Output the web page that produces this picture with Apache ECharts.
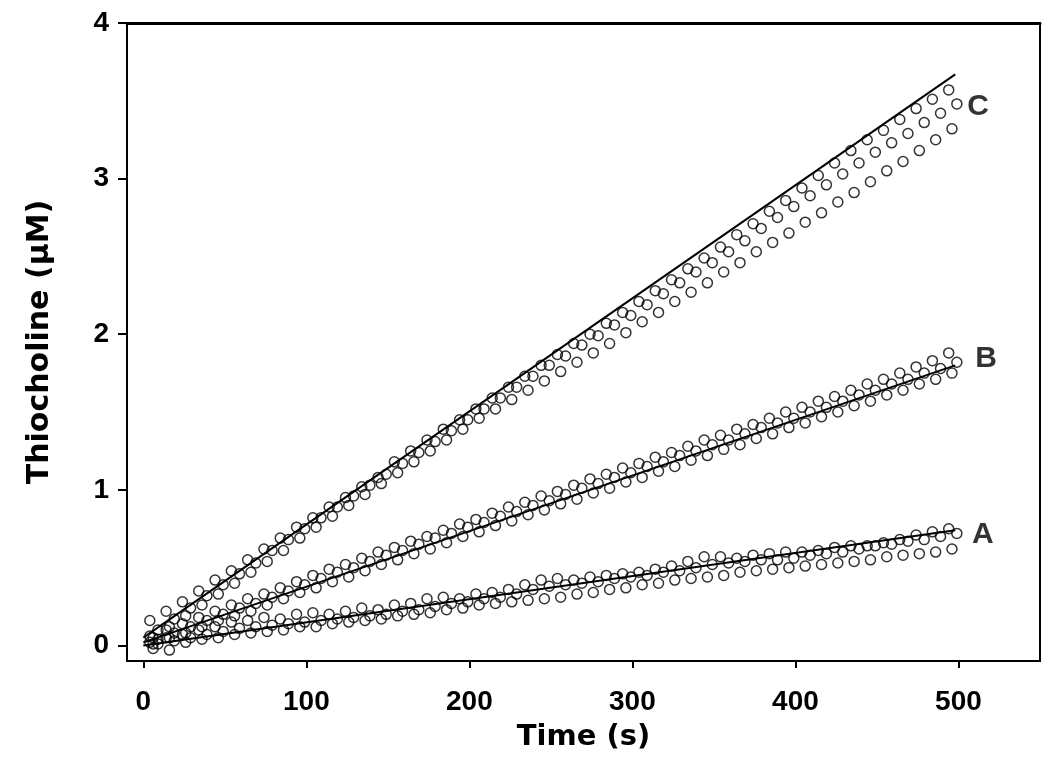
<!DOCTYPE html>
<html>
<head>
<meta charset="utf-8">
<script src="https://cdn.jsdelivr.net/npm/echarts@6/dist/echarts.min.js"></script>
<style>html,body{margin:0;padding:0;background:#fff;}#chart{width:1050px;height:779px;}</style>
</head>
<body>
<div id="chart"></div>
<script>
// Time grids (s) for the three replicate runs
const timesR1 = [4,14,24,34,44,54,64,74,84,94,104,114,124,134,144,154,164,174,184,194,204,214,224,234,244,254,264,274,284,294,304,314,324,334,344,354,364,374,384,394,404,414,424,434,444,454,464,474,484,494];
const timesR2 = [9,19,29,39,49,59,69,79,89,99,109,119,129,139,149,159,169,179,189,199,209,219,229,239,249,259,269,279,289,299,309,319,329,339,349,359,369,379,389,399,409,419,429,439,449,459,469,479,489,499];
const timesR3 = [6,16,26,36,46,56,66,76,86,96,106,116,126,136,146,156,166,176,186,196,206,216,226,236,246,256,266,276,286,296,306,316,326,336,346,356,366,376,386,396,406,416,426,436,446,456,466,476,486,496];

// Thiocholine (µM), condition A
const seriesA1 = [0.02,0.05,0.07,0.10,0.12,0.15,0.16,0.18,0.17,0.20,0.21,0.20,0.22,0.24,0.23,0.26,0.27,0.30,0.31,0.30,0.33,0.34,0.36,0.39,0.42,0.43,0.42,0.44,0.45,0.46,0.47,0.49,0.51,0.54,0.57,0.57,0.56,0.58,0.59,0.60,0.60,0.61,0.63,0.64,0.64,0.66,0.68,0.71,0.73,0.75];
const seriesA2 = [0.01,0.03,0.05,0.07,0.09,0.11,0.12,0.13,0.14,0.15,0.16,0.17,0.18,0.19,0.20,0.22,0.23,0.25,0.27,0.28,0.30,0.31,0.33,0.36,0.38,0.39,0.40,0.41,0.43,0.44,0.45,0.47,0.48,0.50,0.52,0.53,0.54,0.55,0.55,0.56,0.58,0.59,0.60,0.62,0.64,0.65,0.67,0.68,0.70,0.72];
const seriesA3 = [-0.02,-0.03,0.02,0.04,0.05,0.07,0.08,0.09,0.10,0.12,0.12,0.14,0.15,0.16,0.17,0.19,0.20,0.21,0.23,0.24,0.26,0.27,0.28,0.29,0.30,0.31,0.33,0.34,0.36,0.37,0.39,0.40,0.42,0.43,0.44,0.45,0.47,0.48,0.49,0.50,0.51,0.52,0.53,0.54,0.55,0.57,0.58,0.59,0.60,0.62];

// condition B
const seriesB1 = [0.06,0.10,0.14,0.18,0.22,0.26,0.30,0.33,0.37,0.41,0.45,0.49,0.52,0.56,0.60,0.63,0.67,0.70,0.74,0.78,0.81,0.85,0.89,0.92,0.96,0.99,1.03,1.07,1.10,1.14,1.17,1.21,1.24,1.28,1.32,1.35,1.39,1.42,1.46,1.50,1.53,1.57,1.60,1.64,1.68,1.71,1.75,1.79,1.83,1.88];
const seriesB2 = [0.04,0.08,0.12,0.16,0.20,0.24,0.27,0.31,0.35,0.39,0.43,0.47,0.50,0.54,0.58,0.61,0.65,0.69,0.72,0.76,0.79,0.83,0.86,0.90,0.93,0.97,1.01,1.04,1.08,1.11,1.15,1.18,1.22,1.25,1.29,1.32,1.36,1.40,1.43,1.46,1.50,1.53,1.57,1.61,1.64,1.68,1.71,1.75,1.78,1.82];
const seriesB3 = [0.01,0.05,0.08,0.12,0.16,0.19,0.22,0.26,0.30,0.34,0.37,0.41,0.44,0.48,0.52,0.55,0.59,0.62,0.66,0.70,0.73,0.77,0.80,0.84,0.87,0.91,0.94,0.98,1.01,1.05,1.08,1.12,1.15,1.19,1.22,1.26,1.29,1.33,1.36,1.40,1.43,1.47,1.50,1.54,1.57,1.61,1.64,1.68,1.71,1.75];

// condition C
const seriesC1 = [0.16,0.22,0.28,0.35,0.42,0.48,0.55,0.62,0.69,0.76,0.82,0.89,0.95,1.02,1.08,1.18,1.25,1.32,1.39,1.45,1.52,1.59,1.66,1.73,1.80,1.87,1.94,2.00,2.07,2.14,2.21,2.28,2.35,2.42,2.49,2.56,2.64,2.71,2.79,2.86,2.94,3.02,3.10,3.18,3.25,3.31,3.38,3.45,3.51,3.57];
const seriesC2 = [0.10,0.17,0.24,0.32,0.39,0.46,0.53,0.61,0.68,0.75,0.82,0.89,0.96,1.03,1.10,1.17,1.24,1.31,1.38,1.45,1.52,1.59,1.66,1.73,1.80,1.86,1.93,1.99,2.06,2.12,2.19,2.26,2.33,2.40,2.46,2.53,2.60,2.68,2.75,2.82,2.89,2.96,3.03,3.10,3.17,3.23,3.29,3.36,3.42,3.48];
const seriesC3 = [0.05,0.12,0.19,0.26,0.33,0.40,0.47,0.54,0.61,0.69,0.76,0.83,0.90,0.97,1.04,1.11,1.18,1.25,1.32,1.39,1.46,1.52,1.58,1.64,1.70,1.76,1.82,1.88,1.94,2.01,2.08,2.14,2.21,2.27,2.33,2.40,2.46,2.53,2.59,2.65,2.72,2.78,2.85,2.91,2.98,3.05,3.11,3.18,3.25,3.32];

// fitted lines (end points)
const fitTimes = [0, 498];
const fitA = [0.00, 0.74];
const fitB = [0.02, 1.80];
const fitC = [0.05, 3.67];

// curve labels and their anchor positions (data units)
const curveLabels = ['A', 'B', 'C'];
const curveLabelT = [515, 517, 512];
const curveLabelV = [0.71, 1.84, 3.46];

// axis ticks
const xTicks = [0, 100, 200, 300, 400, 500];
const yTicks = [0, 1, 2, 3, 4];

const zip = (t, v) => t.map((x, i) => [x, v[i]]);
const scatterStyle = {
  type: 'scatter', symbol: 'circle', symbolSize: 10,
  itemStyle: { color: 'rgba(0,0,0,0)', borderColor: '#000', borderWidth: 1.5 },
  silent: true, z: 2
};
const lineStyle = {
  type: 'line', showSymbol: false, symbol: 'none',
  lineStyle: { color: '#000', width: 2 }, silent: true, z: 3
};

const runs = [
  [timesR1, seriesA1], [timesR2, seriesA2], [timesR3, seriesA3],
  [timesR1, seriesB1], [timesR2, seriesB2], [timesR3, seriesB3],
  [timesR1, seriesC1], [timesR2, seriesC2], [timesR3, seriesC3]
];
const series = runs.map(r => Object.assign({}, scatterStyle, { data: zip(r[0], r[1]) }));
[fitA, fitB, fitC].forEach(f => series.push(Object.assign({}, lineStyle, { data: zip(fitTimes, f) })));
series.push({
  type: 'scatter', symbolSize: 0, silent: true, z: 4,
  data: curveLabels.map((s, i) => ({ value: [curveLabelT[i], curveLabelV[i]], name: s })),
  label: {
    show: true, position: 'inside', formatter: p => p.name,
    color: '#000', textBorderWidth: 0, fontFamily: 'Liberation Sans', fontWeight: 'bold', fontSize: 30
  }
});

const chart = echarts.init(document.getElementById('chart'), null, { renderer: 'canvas' });
chart.setOption({
  animation: false,
  backgroundColor: '#fff',
  grid: { left: 127, right: 10, top: 23, bottom: 118, show: true, borderColor: '#000', borderWidth: 2, backgroundColor: 'transparent' },
  xAxis: [{
    type: 'value', min: -10, max: 550,
    name: 'Time (s)', nameLocation: 'middle', nameGap: 62,
    nameTextStyle: { fontFamily: 'DejaVu Sans', fontWeight: 'bold', fontSize: 29, color: '#000' },
    axisLine: { show: true, onZero: false, lineStyle: { color: '#000', width: 2 } },
    axisTick: { show: true, inside: false, length: 7, customValues: xTicks, lineStyle: { color: '#000', width: 2 } },
    axisLabel: { customValues: xTicks, margin: 27, fontFamily: 'Liberation Sans', fontWeight: 'bold', fontSize: 28, color: '#000' },
    splitLine: { show: false }
  }, {
    type: 'value', position: 'top', min: -10, max: 550,
    axisLine: { show: true, onZero: false, lineStyle: { color: '#000', width: 3 } },
    axisTick: { show: false }, axisLabel: { show: false }, splitLine: { show: false }
  }],
  yAxis: {
    type: 'value', min: -0.1, max: 4,
    name: 'Thiocholine (\u03bcM)', nameLocation: 'middle', nameGap: 72, nameRotate: 90,
    nameTextStyle: { fontFamily: 'DejaVu Sans', fontWeight: 'bold', fontSize: 30, color: '#000' },
    axisLine: { show: true, onZero: false, lineStyle: { color: '#000', width: 2 } },
    axisTick: { show: true, inside: false, length: 9, customValues: yTicks, lineStyle: { color: '#000', width: 2 } },
    axisLabel: { customValues: yTicks, margin: 18, fontFamily: 'Liberation Sans', fontWeight: 'bold', fontSize: 28, color: '#000' },
    splitLine: { show: false }
  },
  series: series
});
</script>
</body>
</html>
